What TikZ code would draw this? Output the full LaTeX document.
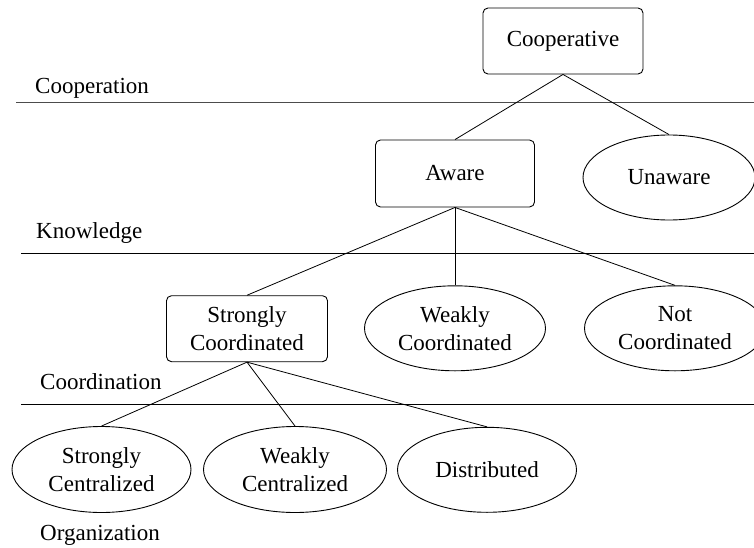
\documentclass[tikz,border=0pt]{standalone}
\usepackage{fontspec}
\setmainfont{Liberation Serif}
\usetikzlibrary{shapes.geometric}
\begin{document}
\begin{tikzpicture}[x=1pt,y=-1pt,
  every node/.style={font=\fontsize{23}{28}\selectfont},
  box/.style={draw,rounded corners=5pt,line width=0.9pt,minimum width=160pt,minimum height=66pt,inner sep=0pt,align=center},
  oval/.style={draw,ellipse,line width=0.9pt,minimum width=180pt,minimum height=85pt,inner sep=0pt,align=center},
  layer/.style={anchor=base west,inner sep=0pt},
  sep/.style={line width=0.9pt},
  edge/.style={line width=0.8pt}]
\useasboundingbox (0,0) rectangle (754,548);
% layer separators
\coordinate (c1a) at (16,102.7); \coordinate (c1b) at (754,102.7);
\coordinate (c2a) at (21,253.3); \coordinate (c2b) at (754,253.3);
\coordinate (c3a) at (21,404.3); \coordinate (c3b) at (754,404.3);
\draw[sep,draw=black!70] (c1a) -- (c1b);
\draw[sep] (c2a) -- (c2b);
\draw[sep] (c3a) -- (c3b);
% layer labels
\node[layer] (lcoop) at (35,93.3) {Cooperation};
\node[layer] (lknow) at (36,238.3) {Knowledge};
\node[layer] (lcoord) at (40,389.3) {Coordination};
\node[layer] (lorg) at (40,540.7) {Organization};
% nodes
\node[box] (coop) at (563,41) {Cooperative};
\node[box,minimum width=159pt,minimum height=67pt] (aware) at (455,173.5) {Aware};
\node[oval,minimum width=172pt] (unaware) at (669,177.5) {Unaware};
\node[box,minimum width=161pt] (sc) at (247,328.7) {Strongly\\Coordinated};
\node[oval,minimum width=181pt] (wc) at (455,328.3) {Weakly\\Coordinated};
\node[oval,minimum width=181pt] (nc) at (675,328.3) {Not\\Coordinated};
\node[oval,minimum width=179pt,minimum height=86pt] (scent) at (101.5,469.5) {Strongly\\Centralized};
\node[oval,minimum width=183pt,minimum height=86pt] (wcent) at (295,469.5) {Weakly\\Centralized};
\node[oval,minimum width=179pt] (dist) at (487,469.8) {Distributed};
% edges
\draw[edge] (coop.south) -- (aware.north);
\draw[edge] (coop.south) -- (unaware.north);
\draw[edge] (aware.south) -- (sc.north);
\draw[edge] (aware.south) -- (wc.north);
\draw[edge] (aware.south) -- (nc.north);
\draw[edge] (sc.south) -- (scent.north);
\draw[edge] (sc.south) -- (wcent.north);
\draw[edge] (sc.south) -- (dist.north);
\end{tikzpicture}
\end{document}
